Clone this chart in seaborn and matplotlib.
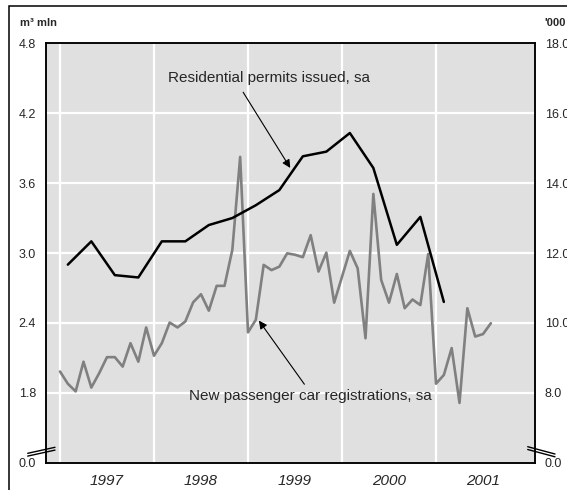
import numpy as np
import pandas as pd
import seaborn as sns
import matplotlib.pyplot as plt
from matplotlib.lines import Line2D
from matplotlib.patches import Rectangle

# residential permits issued, sa (m3 mln, quarterly Q1 1997 - Q1 2001)
permits = [2.90, 3.10, 2.81, 2.79, 3.10, 3.10, 3.24, 3.30, 3.41,
           3.54, 3.83, 3.87, 4.03, 3.73, 3.07, 3.31, 2.58]

# new passenger car registrations, sa ('000, monthly Jan 1997 - Aug 2001)
cars = [8.61, 8.26, 8.04, 8.89, 8.15, 8.56, 9.02, 9.02, 8.75, 9.42, 8.89, 9.87,
        9.06, 9.42, 10.01, 9.87, 10.04, 10.59, 10.82, 10.35, 11.06, 11.06, 12.09, 14.75,
        9.73, 10.09, 11.66, 11.51, 11.61, 11.99, 11.95, 11.88, 12.51, 11.47, 12.01, 10.58,
        11.32, 12.06, 11.56, 9.56, 13.69, 11.23, 10.58, 11.40, 10.42, 10.67, 10.51, 11.97,
        8.26, 8.51, 9.28, 7.71, 10.42, 9.61, 9.68, 9.99]

years = [1997, 1998, 1999, 2000, 2001]
left_ticks = [1.2, 1.8, 2.4, 3.0, 3.6, 4.2, 4.8]
left_labels = ['0.0', '1.8', '2.4', '3.0', '3.6', '4.2', '4.8']
right_ticks = [6, 8, 10, 12, 14, 16, 18]
right_labels = ['0.0', '8.0', '10.0', '12.0', '14.0', '16.0', '18.0']

# decimal-year positions
q_dates = pd.date_range('1997-02-01', periods=len(permits), freq='3MS')
m_dates = pd.date_range('1997-01-01', periods=len(cars), freq='MS')
df_q = pd.DataFrame({'x': q_dates.year + (q_dates.month - 1) / 12, 'v': permits})
df_m = pd.DataFrame({'x': m_dates.year + (m_dates.month - 1) / 12, 'v': cars})

sns.set_style('white')
plt.rcParams['font.family'] = ['Liberation Sans', 'DejaVu Sans']

W, H = 567, 490
fig = plt.figure(figsize=(W / 100, H / 100), dpi=100)
ax = fig.add_axes([45.7 / W, 1 - 462.7 / H, (535 - 45.7) / W, (462.7 - 43.3) / H])
ax2 = ax.twinx()

ax.set_xlim(1996.848, 2002.053)
ax.set_ylim(1.2, 4.8)
ax2.set_ylim(6, 18)

# background + grid + car line on the right axis, permits on top
ax2.set_zorder(1)
ax.set_zorder(2)
ax2.patch.set_visible(True)
ax2.set_facecolor('#e0e0e0')
ax.patch.set_visible(False)
for y in right_ticks[1:-1]:
    ax2.axhline(y, color='white', lw=1.6, zorder=1)
for yr in years:
    ax2.axvline(yr, color='white', lw=1.6, zorder=1)

sns.lineplot(data=df_m, x='x', y='v', ax=ax2, color='#808080', lw=1.9, zorder=3)
sns.lineplot(data=df_q, x='x', y='v', ax=ax, color='black', lw=1.8, zorder=5)

ax.set_yticks(left_ticks)
ax.set_yticklabels(left_labels)
ax2.set_yticks(right_ticks)
ax2.set_yticklabels(right_labels)
ax.set_xticks([y + 0.5 for y in years])
ax.set_xticklabels([str(y) for y in years], fontsize=11, style='italic')
ax.tick_params(axis='x', length=0, pad=8)
ax.tick_params(axis='y', length=0, pad=7, labelsize=9)
ax2.tick_params(axis='y', length=0, pad=7, labelsize=9)
for a in (ax, ax2):
    a.set_xlabel('')
    a.set_ylabel('')
    for s in a.spines.values():
        s.set_color('black')
        s.set_linewidth(1.1)

# annotations
ax.annotate('', xy=(1999.465, 3.71), xytext=(1998.933, 4.40),
            arrowprops=dict(arrowstyle='-|>', color='black', lw=0.8, mutation_scale=12))
ax.text(1998.146, 4.50, 'Residential permits issued, sa', fontsize=11, ha='left', va='center')
ax2.annotate('', xy=(1999.099, 10.13), xytext=(1999.617, 8.18),
             arrowprops=dict(arrowstyle='-|>', color='black', lw=0.8, mutation_scale=12))
ax2.text(1998.372, 7.91, 'New passenger car registrations, sa', fontsize=11, ha='left', va='center')

# unit labels
fig.text(20 / W, 1 - 22.5 / H, 'm³ mln', fontsize=8, fontweight='bold', ha='left', va='center')
fig.text(544 / W, 1 - 22.5 / H, "'000", fontsize=8, fontweight='bold', ha='left', va='center')


def px(x, y):
    return x / W, 1 - y / H


# axis break marks
for dy in (0, 2.8):
    (x0, y0), (x1, y1) = px(27.7, 453.3 + dy), px(55, 447.3 + dy)
    fig.add_artist(Line2D([x0, x1], [y0, y1], color='black', lw=1.0, transform=fig.transFigure))
    (x0, y0), (x1, y1) = px(527.7, 446.7 + dy), px(555, 454 + dy)
    fig.add_artist(Line2D([x0, x1], [y0, y1], color='black', lw=1.0, transform=fig.transFigure))

# outer frame
fig.patches.append(Rectangle((9 / W, -0.1), 1.2, 1 - 6 / H + 0.1, transform=fig.transFigure,
                             fill=False, ec='black', lw=1.1))

fig.savefig('out.png', dpi=100)
